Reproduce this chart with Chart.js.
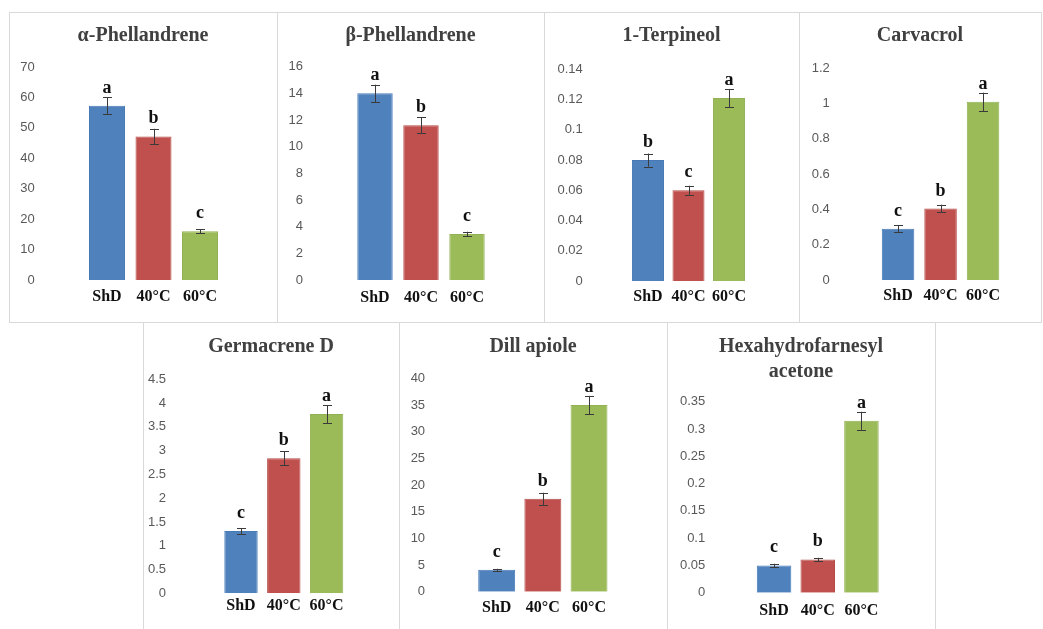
<!DOCTYPE html>
<html>
<head>
<meta charset="utf-8">
<script src="https://cdn.jsdelivr.net/npm/chart.js@4.4.1/dist/chart.umd.min.js"></script>
<style>
  html, body { margin: 0; padding: 0; background: #fff; }
  body { width: 1043px; height: 629px; position: relative; overflow: hidden; }
  .panel { position: absolute; box-sizing: border-box; border: 1px solid #d9d9d9; background: #fff; }
  .panel canvas { position: absolute; left: 0; top: 0; }
</style>
</head>
<body>
<script>
// Extraction methods shared by every compound
const categories = ['ShD', '40°C', '60°C'];
const barColors = ['#4F81BD', '#C0504D', '#9BBB59'];
const barEdges  = ['#457AB6', '#B44A47', '#91B152'];

// Compound contents (mean), standard errors and significance letters
const alphaPhellandrene        = [57.3, 47.2, 16.0];
const alphaPhellandreneErr     = [2.8, 2.5, 0.7];
const alphaPhellandreneLetters = ['a', 'b', 'c'];
const alphaPhellandreneTicks   = ['0', '10', '20', '30', '40', '50', '60', '70'];

const betaPhellandrene         = [14.0, 11.6, 3.45];
const betaPhellandreneErr      = [0.65, 0.6, 0.17];
const betaPhellandreneLetters  = ['a', 'b', 'c'];
const betaPhellandreneTicks    = ['0', '2', '4', '6', '8', '10', '12', '14', '16'];

const terpineol                = [0.080, 0.060, 0.121];
const terpineolErr             = [0.0043, 0.003, 0.006];
const terpineolLetters         = ['b', 'c', 'a'];
const terpineolTicks           = ['0', '0.02', '0.04', '0.06', '0.08', '0.1', '0.12', '0.14'];

const carvacrol                = [0.29, 0.405, 1.01];
const carvacrolErr             = [0.019, 0.022, 0.052];
const carvacrolLetters         = ['c', 'b', 'a'];
const carvacrolTicks           = ['0', '0.2', '0.4', '0.6', '0.8', '1', '1.2'];

const germacreneD              = [1.31, 2.84, 3.77];
const germacreneDErr           = [0.063, 0.147, 0.19];
const germacreneDLetters       = ['c', 'b', 'a'];
const germacreneDTicks         = ['0', '0.5', '1', '1.5', '2', '2.5', '3', '3.5', '4', '4.5'];

const dillApiole               = [4.1, 17.4, 35.0];
const dillApioleErr            = [0.2, 1.15, 1.7];
const dillApioleLetters        = ['c', 'b', 'a'];
const dillApioleTicks          = ['0', '5', '10', '15', '20', '25', '30', '35', '40'];

const hexahydrofarnesylAcetone        = [0.050, 0.061, 0.315];
const hexahydrofarnesylAcetoneErr     = [0.003, 0.003, 0.0165];
const hexahydrofarnesylAcetoneLetters = ['c', 'b', 'a'];
const hexahydrofarnesylAcetoneTicks   = ['0', '0.05', '0.1', '0.15', '0.2', '0.25', '0.3', '0.35'];

// Page layout: panel frame [x0, y0, x1, y1], plot area [left, right, top, bottom],
// gap between y labels and plot, distance from baseline to category-label centre
const panels = [
  { title: ['α-Phellandrene'], titleY: [36], values: alphaPhellandrene, errors: alphaPhellandreneErr,
    letters: alphaPhellandreneLetters, ticks: alphaPhellandreneTicks,
    box: [9, 12, 277, 322], plot: [83.75, 223.25, 67, 280], tickGap: 49, catGap: 16.7, barPct: 0.774 },
  { title: ['β-Phellandrene'], titleY: [36], values: betaPhellandrene, errors: betaPhellandreneErr,
    letters: betaPhellandreneLetters, ticks: betaPhellandreneTicks,
    box: [277, 12, 544, 322], plot: [352, 490, 66.7, 280], tickGap: 49, catGap: 18, barPct: 0.77 },
  { title: ['1-Terpineol'], titleY: [36], values: terpineol, errors: terpineolErr,
    letters: terpineolLetters, ticks: terpineolTicks,
    box: [544, 12, 799, 322], plot: [627.7, 749.3, 69.3, 281], tickGap: 45, catGap: 15.7, barPct: 0.79 },
  { title: ['Carvacrol'], titleY: [36], values: carvacrol, errors: carvacrolErr,
    letters: carvacrolLetters, ticks: carvacrolTicks,
    box: [799, 12, 1041, 322], plot: [876.8, 1004.3, 68.3, 280], tickGap: 47, catGap: 15.5, barPct: 0.765 },
  { title: ['Germacrene D'], titleY: [346.7], values: germacreneD, errors: germacreneDErr,
    letters: germacreneDLetters, ticks: germacreneDTicks,
    box: [143, 322, 399, 630], plot: [219.6, 348, 379.3, 593.3], tickGap: 53.5, catGap: 13, barPct: 0.78 },
  { title: ['Dill apiole'], titleY: [346.7], values: dillApiole, errors: dillApioleErr,
    letters: dillApioleLetters, ticks: dillApioleTicks,
    box: [399, 322, 667, 630], plot: [473.6, 612.1, 378.3, 591.7], tickGap: 48.5, catGap: 16.6, barPct: 0.8 },
  { title: ['Hexahydrofarnesyl', 'acetone'], titleY: [346.7, 371.7], values: hexahydrofarnesylAcetone,
    errors: hexahydrofarnesylAcetoneErr, letters: hexahydrofarnesylAcetoneLetters, ticks: hexahydrofarnesylAcetoneTicks,
    box: [667, 322, 935, 630], plot: [752.2, 883.3, 401.7, 592.7], tickGap: 47, catGap: 18.5, barPct: 0.79 }
];

const SERIF = '"Liberation Serif", "Times New Roman", serif';
const SANS  = '"Liberation Sans", Arial, sans-serif';
const CAT_FONT_SIZE = 16;

panels.forEach((p, n) => {
  const [bx0, by0, bx1, by1] = p.box;
  const div = document.createElement('div');
  div.className = 'panel';
  div.style.left = bx0 + 'px';
  div.style.top = by0 + 'px';
  div.style.width = (bx1 - bx0 + 1) + 'px';
  div.style.height = (by1 - by0 + 1) + 'px';
  document.body.appendChild(div);

  const ox = bx0 + 1, oy = by0 + 1;
  const cw = bx1 - bx0 - 1, ch = by1 - by0 - 1;
  const canvas = document.createElement('canvas');
  canvas.width = cw; canvas.height = ch;
  canvas.style.width = cw + 'px'; canvas.style.height = ch + 'px';
  div.appendChild(canvas);

  const [pl, pr, pt, pb] = p.plot;
  const tickValues = p.ticks.map(Number);

  // Compound name above the plot, centred on the panel
  const titlePlugin = {
    id: 'panelTitle' + n,
    afterDraw(chart) {
      const ctx = chart.ctx;
      ctx.save();
      ctx.font = 'bold 20px ' + SERIF;
      ctx.fillStyle = '#404040';
      ctx.textAlign = 'center';
      ctx.textBaseline = 'middle';
      p.title.forEach((line, k) => ctx.fillText(line, (bx0 + bx1) / 2 - ox, p.titleY[k] - oy));
      ctx.restore();
    }
  };

  // Standard-error whiskers and significance letters
  const errorPlugin = {
    id: 'errorBars' + n,
    afterDatasetsDraw(chart) {
      const ctx = chart.ctx;
      const y = chart.scales.y;
      const meta = chart.getDatasetMeta(0);
      ctx.save();
      meta.data.forEach((bar, i) => {
        const v = p.values[i], e = p.errors[i];
        const yHi = y.getPixelForValue(v + e);
        const yLo = y.getPixelForValue(v - e);
        const x = Math.round(bar.x) + 0.5;
        ctx.strokeStyle = '#3a3a3a';
        ctx.lineWidth = 1;
        ctx.beginPath();
        ctx.moveTo(x, yHi); ctx.lineTo(x, yLo);
        ctx.moveTo(x - 4.5, Math.round(yHi) + 0.5); ctx.lineTo(x + 4.5, Math.round(yHi) + 0.5);
        ctx.moveTo(x - 4.5, Math.round(yLo) + 0.5); ctx.lineTo(x + 4.5, Math.round(yLo) + 0.5);
        ctx.stroke();

        ctx.font = 'bold 18px ' + SERIF;
        ctx.fillStyle = '#111';
        ctx.textAlign = 'center';
        ctx.textBaseline = 'alphabetic';
        ctx.fillText(p.letters[i], bar.x, y.getPixelForValue(v) - 13);
      });
      ctx.restore();
    }
  };

  new Chart(canvas, {
    type: 'bar',
    data: {
      labels: categories,
      datasets: [{
        data: p.values,
        backgroundColor: barColors,
        borderColor: barEdges,
        borderWidth: 1,
        barPercentage: p.barPct,
        categoryPercentage: 1
      }]
    },
    options: {
      responsive: false,
      animation: false,
      devicePixelRatio: 1,
      layout: { padding: { left: 0, top: pt - oy, right: cw - (pr - ox), bottom: 0 } },
      plugins: { legend: { display: false }, tooltip: { enabled: false }, title: { display: false } },
      scales: {
        x: {
          offset: true,
          grid: { display: false, drawTicks: true, tickLength: p.catGap - CAT_FONT_SIZE * 0.6 },
          border: { display: false },
          ticks: {
            font: { family: SERIF, weight: 'bold', size: CAT_FONT_SIZE },
            color: '#111',
            padding: 0,
            maxRotation: 0,
            autoSkip: false
          },
          afterFit(s) { s.height = ch - (pb - oy); }
        },
        y: {
          min: 0,
          max: tickValues[tickValues.length - 1],
          grid: { display: false, drawTicks: true, tickLength: p.tickGap },
          border: { display: false },
          afterBuildTicks(s) { s.ticks = tickValues.map(v => ({ value: v })); },
          ticks: {
            padding: 0,
            font: { family: SANS, size: 13 },
            color: '#595959',
            autoSkip: false,
            callback: (v, idx) => p.ticks[idx]
          },
          afterFit(s) { s.width = pl - ox; }
        }
      }
    },
    plugins: [errorPlugin, titlePlugin]
  });
});
</script>
</body>
</html>
